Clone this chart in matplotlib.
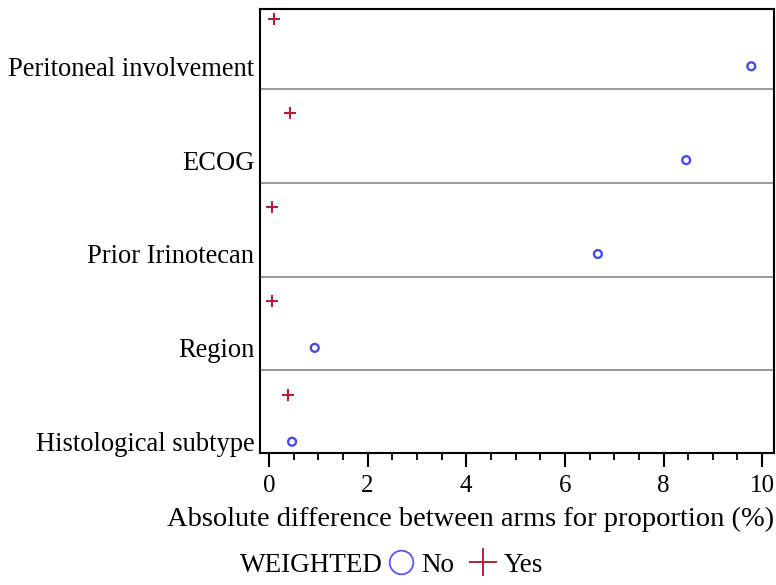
import matplotlib.pyplot as plt
from matplotlib.lines import Line2D
from matplotlib.ticker import MultipleLocator

plt.rcParams['font.family'] = ['Liberation Serif', 'DejaVu Serif']

factors = ['Peritoneal involvement', 'ECOG', 'Prior Irinotecan', 'Region',
           'Histological subtype']
diff_no = [9.78, 8.46, 6.67, 0.93, 0.47]
diff_yes = [0.10, 0.43, 0.06, 0.06, 0.39]

blue = '#4a4ae6'
red = '#b3203c'

fig = plt.figure(figsize=(7.76, 5.85), dpi=100)
ax = fig.add_axes([260 / 776, 1 - 453 / 585, 514 / 776, 444 / 585])

pos = list(range(len(factors)))
ax.scatter(diff_no, pos, marker='o', s=32, facecolors='none',
           edgecolors=blue, linewidths=1.7, zorder=3)
ax.scatter(diff_yes, [p - 0.5 for p in pos], marker='+', s=70,
           color=red, linewidths=1.5, zorder=3)

for p in pos[:-1]:
    ax.axhline(p + 0.24, color='#888888', lw=1.2)

ax.set_ylim(4.12, -0.61)
ax.set_xlim(-0.18, 10.24)
ax.set_yticks(pos)
ax.set_yticklabels(factors, fontsize=19.1)
ax.tick_params(axis='y', length=0, pad=4)
ax.xaxis.set_major_locator(MultipleLocator(2))
ax.xaxis.set_minor_locator(MultipleLocator(0.5))
ax.tick_params(axis='x', which='major', length=10, width=1.5, labelsize=18,
               pad=6)
ax.tick_params(axis='x', which='minor', length=5, width=1.3)
for s in ax.spines.values():
    s.set_linewidth(1.5)
ax.set_xlabel('Absolute difference between arms for proportion (%)',
              fontsize=20.5, labelpad=7, loc='right')

fig.text(383 / 776, 1 - 565 / 585, 'WEIGHTED', fontsize=19.5,
         ha='right', va='center')
handles = [
    Line2D([], [], marker='o', ls='none', markersize=17, markerfacecolor='none',
           markeredgecolor='#5a5af0', markeredgewidth=1.3, label='No'),
    Line2D([], [], marker='+', ls='none', markersize=20, color=red,
           markeredgewidth=1.4, label='Yes'),
]
fig.legend(handles=handles, loc='center left', ncol=2, frameon=False,
           bbox_to_anchor=(389 / 776, 1 - 565 / 585), fontsize=19.5,
           handletextpad=0.3, columnspacing=0.6, handlelength=0.9,
           borderaxespad=0, borderpad=0)

fig.savefig('out.png', dpi=100)
